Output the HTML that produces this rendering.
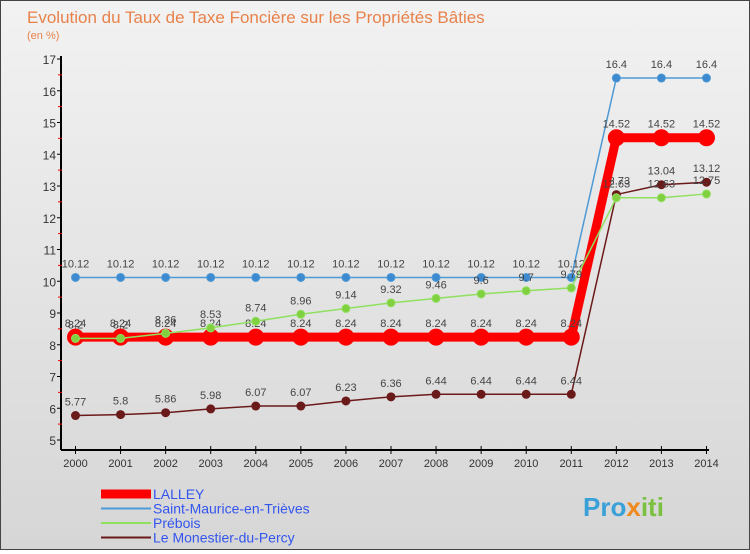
<!DOCTYPE html>
<html><head><meta charset="utf-8"><style>
body{margin:0;width:750px;height:550px;overflow:hidden;font-family:"Liberation Sans",sans-serif}
#wrap{position:relative;width:748px;height:548px;border:1px solid #444;background:linear-gradient(#f2f2f2,#d6d6d6)}
</style></head><body>
<div id="wrap">
<svg id="c" width="748" height="548" xmlns="http://www.w3.org/2000/svg"></svg>
</div>
<script>
const years=[2000,2001,2002,2003,2004,2005,2006,2007,2008,2009,2010,2011,2012,2013,2014];
const lalley=[8.24,8.24,8.24,8.24,8.24,8.24,8.24,8.24,8.24,8.24,8.24,8.24,14.52,14.52,14.52];
const stMaurice=[10.12,10.12,10.12,10.12,10.12,10.12,10.12,10.12,10.12,10.12,10.12,10.12,16.4,16.4,16.4];
const prebois=[8.2,8.2,8.36,8.53,8.74,8.96,9.14,9.32,9.46,9.6,9.7,9.79,12.63,12.63,12.75];
const monestier=[5.77,5.8,5.86,5.98,6.07,6.07,6.23,6.36,6.44,6.44,6.44,6.44,12.73,13.04,13.12];
const yTicks=[5,6,7,8,9,10,11,12,13,14,15,16,17];
const NS="http://www.w3.org/2000/svg",svg=document.getElementById('c');
const X=i=>74.5+i*45.07, Y=v=>439-(v-5)*31.75;
function mk(t,a,p){const e=document.createElementNS(NS,t);for(const k in a)e.setAttribute(k,a[k]);(p||svg).appendChild(e);return e;}
let t=mk('text',{x:26,y:22,'font-size':17,fill:'#e8824a'});t.textContent='Evolution du Taux de Taxe Foncière sur les Propriétés Bâties';


t=mk('text',{x:26,y:38,'font-size':11,fill:'#e8824a'});t.textContent='(en %)';


let ax=mk('g',{});


mk('line',{x1:60,y1:55,x2:60,y2:449,stroke:'#000','stroke-width':2},ax);
mk('line',{x1:60,y1:449,x2:708,y2:449,stroke:'#000','stroke-width':2},ax);
yTicks.forEach(v=>{const y=Y(v);mk('line',{x1:56,y1:y,x2:61,y2:y,stroke:'#000'},ax);
 if(v<17)mk('line',{x1:57,y1:y-15.9,x2:61,y2:y-15.9,stroke:'#e00'},ax);
 const l=mk('text',{x:55,y:y+5,'text-anchor':'end','font-size':12,fill:'#333'},ax);l.textContent=v;
 
 });
years.forEach((yr,i)=>{const x=X(i);mk('line',{x1:x,y1:445,x2:x,y2:453,stroke:'#000'},ax);
 const l=mk('text',{x:x,y:466,'text-anchor':'middle','font-size':11,fill:'#333'},ax);l.textContent=yr;
 
 });
function series(d,col,w,r,name,fill){const g=mk('g',{});
 
 
 mk('polyline',{points:d.map((v,i)=>X(i)+','+Y(v)).join(' '),fill:'none',stroke:col,'stroke-width':w},g);
 d.forEach((v,i)=>{const c=mk('circle',{cx:X(i),cy:Y(v),r:r,fill:fill,stroke:col,'stroke-width':1},g);
  
  
  const l=mk('text',{x:X(i),y:Y(v)-10,'text-anchor':'middle','font-size':11,fill:'#444'},g);l.textContent=v;
  
  });}
series(monestier,'#6b1a1a',1.5,4,'series-monestier','#6b1a1a');
series(stMaurice,'#4d9ad6',1.5,4,'series-saint-maurice','#3d8ad0');
series(lalley,'#f00',9,8,'series-lalley','#f00');
series(prebois,'#90e060',1.5,4,'series-prebois','#80d040');
const leg=[['LALLEY','#f00',9],['Saint-Maurice-en-Trièves','#4d9ad6',2],['Prébois','#90e060',2],['Le Monestier-du-Percy','#6b1a1a',2]];
leg.forEach((L,i)=>{const g=mk('g',{});
 
 
 const y=493+i*14.5;mk('line',{x1:100,y1:y,x2:150,y2:y,stroke:L[1],'stroke-width':L[2]},g);
 const l=mk('text',{x:152,y:y+5,'font-size':14,fill:'#3355ee'},g);l.textContent=L[0];});
t=mk('text',{x:582,y:515,'font-size':26,'font-weight':'bold',fill:'#3aa0d8'});


[['Pro','#3aa0d8'],['x','#f08a20'],['iti','#7cc040']].forEach(p=>{const s=mk('tspan',{fill:p[1]},t);s.textContent=p[0];});
</script>
</body></html>
